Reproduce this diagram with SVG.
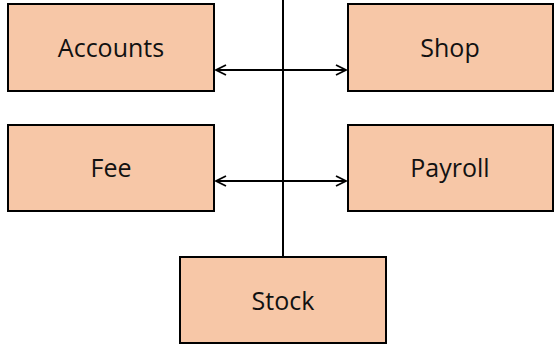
<svg xmlns="http://www.w3.org/2000/svg" width="556" height="347" viewBox="0 0 556 347">
<style>
.box{fill:#f7c7a7;stroke:#000;stroke-width:2}
.lbl{font-family:"Open Sans","Liberation Sans",sans-serif;font-size:25px;fill:#111;text-anchor:middle;dominant-baseline:central}
.ln{stroke:#000;stroke-width:2;fill:none}
</style>
<defs>
<marker id="ah" viewBox="0 0 12 12" refX="11" refY="6" markerWidth="12" markerHeight="12" markerUnits="userSpaceOnUse" orient="auto-start-reverse">
<path d="M1,1 L11,6 L1,11" fill="none" stroke="#000" stroke-width="1.8"/>
</marker>
</defs>
<g id="connectors">
<line class="ln" x1="283" y1="0" x2="283" y2="257"/>
<line class="ln" x1="216" y1="70" x2="346" y2="70" marker-start="url(#ah)" marker-end="url(#ah)"/>
<line class="ln" x1="216" y1="181" x2="346" y2="181" marker-start="url(#ah)" marker-end="url(#ah)"/>
</g>
<g id="accounts"><rect class="box" x="8" y="4" width="206" height="87"/><text class="lbl" x="111" y="47">Accounts</text></g>
<g id="shop"><rect class="box" x="348" y="4" width="205" height="87"/><text class="lbl" x="450" y="47">Shop</text></g>
<g id="fee"><rect class="box" x="8" y="125" width="206" height="86"/><text class="lbl" x="111" y="167">Fee</text></g>
<g id="payroll"><rect class="box" x="348" y="125" width="205" height="86"/><text class="lbl" x="450" y="167">Payroll</text></g>
<g id="stock"><rect class="box" x="180" y="257" width="206" height="86"/><text class="lbl" x="283" y="300">Stock</text></g>
</svg>
